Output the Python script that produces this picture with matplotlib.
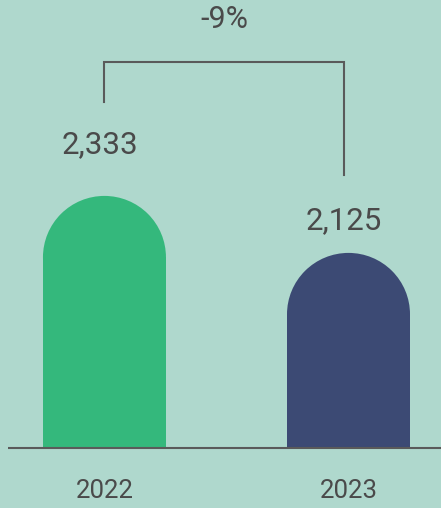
import matplotlib.pyplot as plt
from matplotlib.patches import Ellipse
import numpy as np

years = ['2022', '2023']
values = [2333, 2125]
bar_colors = ['#34b87c', '#3c4a74']

bg = '#afd8cd'
text_color = '#4a4a4a'
line_color = '#5a5a5a'

plt.rcParams['font.family'] = ['Roboto', 'DejaVu Sans']

fig = plt.figure(figsize=(4.41, 5.08), dpi=100)
fig.patch.set_facecolor(bg)
ax = fig.add_axes([0, 0, 1, 1])
ax.set_facecolor(bg)

# value axis does not start at zero
base = 1413
ax.set_xlim(-0.428, 1.379)
ax.set_ylim(1194, 3048)
ax.axis('off')

x = np.arange(len(years))
width = 0.504
cap = 224  # height of the rounded top in data units

# bars: a rectangle plus a half-ellipse cap
for xi, v, c in zip(x, values, bar_colors):
    ax.bar(xi, v - cap - base, width=width, bottom=base, color=c, linewidth=0)
    ax.add_patch(Ellipse((xi, v - cap), width, 2 * cap, color=c, linewidth=0))

# baseline
ax.plot([-0.395, 1.379], [base, base], color=line_color, lw=1.5, solid_capstyle='butt')

# value labels above the bars
label_offsets = [43, 24]
for xi, v, off in zip(x, values, label_offsets):
    ax.annotate(f'{v:,}', (xi - 0.02, v), xytext=(0, off), textcoords='offset pixels',
                ha='center', va='baseline', fontsize=22.5, color=text_color)

# year labels under the baseline
for xi, y in zip(x, years):
    ax.annotate(y, (xi, base), xytext=(0, -50), textcoords='offset pixels',
                ha='center', va='baseline', fontsize=18.5, color=text_color)

# change bracket
change = (values[1] - values[0]) / values[0] * 100
ax.plot([0, 0, 0.982, 0.982], [2676, 2822, 2822, 2409],
        color=line_color, lw=1.5, solid_joinstyle='miter')
ax.text(0.492, 2946, f'{change:.0f}%', ha='center', va='baseline',
        fontsize=22, color=text_color)

fig.savefig('out.png', dpi=100, facecolor=bg)
